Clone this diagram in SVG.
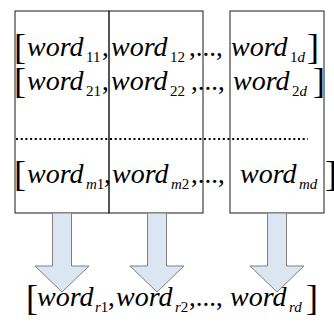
<svg xmlns="http://www.w3.org/2000/svg" width="334" height="327" viewBox="0 0 334 327">
<rect width="334" height="327" fill="#fff"/>
<g fill="none" stroke="#1a1a1a" stroke-width="1">
<g id="column1"><rect x="15" y="11" width="94" height="202"/></g>
<g id="column2"><rect x="109" y="11" width="94" height="202"/></g>
<g id="column3"><rect x="230" y="11" width="94" height="202"/></g>
</g>
<line x1="16" y1="139" x2="308" y2="139" stroke="#000" stroke-width="2" stroke-dasharray="2 2.7"/>
<g id="row1" fill="#000">
<text font-family="Liberation Serif, serif" font-size="36" x="14" y="59">[</text>
<text font-family="Liberation Serif, serif" font-style="italic" font-size="28" x="27" y="56">word</text>
<text font-family="Liberation Serif, serif" font-size="15" x="86" y="62">11</text>
<text font-family="Liberation Serif, serif" font-size="27" x="102" y="56">,</text>
<text font-family="Liberation Serif, serif" font-style="italic" font-size="28" x="111" y="56">word</text>
<text font-family="Liberation Serif, serif" font-size="15" x="170" y="62">12</text>
<text font-family="Liberation Serif, serif" font-size="27" x="189" y="56">,...,</text>
<text font-family="Liberation Serif, serif" font-style="italic" font-size="28" x="231" y="56">word</text>
<text font-family="Liberation Serif, serif" font-size="15" x="290" y="62">1<tspan font-style="italic">d</tspan></text>
<text font-family="Liberation Serif, serif" font-size="36" x="307" y="59">]</text>
</g>
<g id="row2" fill="#000">
<text font-family="Liberation Serif, serif" font-size="36" x="14" y="93">[</text>
<text font-family="Liberation Serif, serif" font-style="italic" font-size="28" x="27" y="90">word</text>
<text font-family="Liberation Serif, serif" font-size="15" x="86" y="96">21</text>
<text font-family="Liberation Serif, serif" font-size="27" x="102" y="90">,</text>
<text font-family="Liberation Serif, serif" font-style="italic" font-size="28" x="111" y="90">word</text>
<text font-family="Liberation Serif, serif" font-size="15" x="170" y="96">22</text>
<text font-family="Liberation Serif, serif" font-size="27" x="191" y="90">,...,</text>
<text font-family="Liberation Serif, serif" font-style="italic" font-size="28" x="233" y="90">word</text>
<text font-family="Liberation Serif, serif" font-size="15" x="292" y="96">2<tspan font-style="italic">d</tspan></text>
<text font-family="Liberation Serif, serif" font-size="36" x="313" y="93">]</text>
</g>
<g id="rowm" fill="#000">
<text font-family="Liberation Serif, serif" font-size="36" x="14" y="186">[</text>
<text font-family="Liberation Serif, serif" font-style="italic" font-size="28" x="27" y="183">word</text>
<text font-family="Liberation Serif, serif" font-size="15" x="86" y="189"><tspan font-style="italic">m</tspan>1</text>
<text font-family="Liberation Serif, serif" font-size="27" x="104" y="183">,</text>
<text font-family="Liberation Serif, serif" font-style="italic" font-size="28" x="112" y="183">word</text>
<text font-family="Liberation Serif, serif" font-size="15" x="171" y="189"><tspan font-style="italic">m</tspan>2</text>
<text font-family="Liberation Serif, serif" font-size="27" x="191" y="183">,...,</text>
<text font-family="Liberation Serif, serif" font-style="italic" font-size="28" x="240" y="183">word</text>
<text font-family="Liberation Serif, serif" font-style="italic" font-size="15" x="299" y="189">md</text>
<text font-family="Liberation Serif, serif" font-size="36" x="325" y="186">]</text>
</g>
<g id="connectors" fill="#dce6f2" stroke="#7f7f7f" stroke-width="1">
<polygon points="52.5,213 71.5,213 71.5,266 89,266 62,292 35,266 52.5,266"/>
<polygon points="147.5,213 166.5,213 166.5,266 184,266 157,292 130,266 147.5,266"/>
<polygon points="267.5,213 286.5,213 286.5,266 304,266 277,292 250,266 267.5,266"/>
</g>
<g id="result" fill="#000">
<text font-family="Liberation Serif, serif" font-size="36" x="26" y="310">[</text>
<text font-family="Liberation Serif, serif" font-style="italic" font-size="28" x="37" y="306">word</text>
<text font-family="Liberation Serif, serif" font-size="15" x="95" y="312"><tspan font-style="italic">r</tspan>1</text>
<text font-family="Liberation Serif, serif" font-size="27" x="108" y="306">,</text>
<text font-family="Liberation Serif, serif" font-style="italic" font-size="28" x="116" y="306">word</text>
<text font-family="Liberation Serif, serif" font-size="15" x="175" y="312"><tspan font-style="italic">r</tspan>2</text>
<text font-family="Liberation Serif, serif" font-size="27" x="189" y="306">,...,</text>
<text font-family="Liberation Serif, serif" font-style="italic" font-size="28" x="230" y="306">word</text>
<text font-family="Liberation Serif, serif" font-style="italic" font-size="15" x="289" y="312">rd</text>
<text font-family="Liberation Serif, serif" font-size="36" x="306" y="310">]</text>
</g>
</svg>
